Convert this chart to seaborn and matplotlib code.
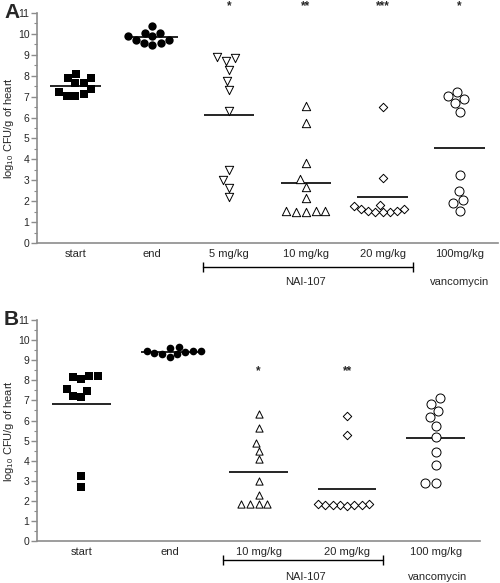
import numpy as np
import pandas as pd
import matplotlib
matplotlib.use("Agg")
import matplotlib.pyplot as plt
from matplotlib.ticker import MultipleLocator
import seaborn as sns

# ---------------- data ----------------
groups_A = ["start", "end", "5 mg/kg", "10 mg/kg", "20 mg/kg", "100mg/kg"]
A_start = [7.91, 7.64, 7.64, 7.88, 8.09, 7.35, 7.11, 7.03, 7.05, 7.21]
A_end = [10.35, 10.06, 9.90, 9.71, 9.55, 9.47, 9.55, 9.71, 9.87, 10.06]
A_5 = [8.85, 8.87, 8.70, 8.28, 7.72, 7.29, 6.32, 3.49, 3.01, 2.65, 2.19]
A_10 = [6.56, 5.76, 3.84, 3.05, 2.69, 2.14, 1.53, 1.50, 1.50, 1.53, 1.53]
A_20 = [6.52, 3.09, 1.80, 1.65, 1.55, 1.50, 1.50, 1.50, 1.55, 1.65, 1.75]
A_van = [7.24, 7.03, 6.89, 6.67, 6.25, 3.25, 2.50, 2.06, 1.93, 1.55]
A_stars = ["", "", "*", "**", "***", "*"]

groups_B = ["start", "end", "10 mg/kg", "20 mg/kg", "100 mg/kg"]
B_start = [8.23, 8.06, 8.18, 8.23, 7.55, 7.23, 7.18, 7.48, 2.70, 3.24]
B_end = [9.45, 9.30, 9.59, 9.17, 9.34, 9.67, 9.30, 9.47, 9.47, 9.40]
B_10 = [6.32, 5.61, 4.89, 4.50, 4.07, 3.00, 2.29, 1.83, 1.83, 1.83, 1.83]
B_20 = [6.22, 5.28, 1.80, 1.78, 1.82, 1.76, 1.86, 1.80, 1.78, 1.80]
B_van = [7.10, 6.84, 6.47, 6.16, 5.74, 5.16, 4.45, 3.78, 2.90, 2.90]
B_stars = ["", "", "*", "**", ""]

# marker styles: (marker, face, size)
styles_A = [("s", "black", 6.0), ("o", "black", 6.0), ("v", "white", 6.0),
            ("^", "white", 6.0), ("D", "white", 4.3), ("o", "white", 6.5)]
styles_B = [("s", "black", 6.0), ("o", "black", 5.5), ("^", "white", 5.2),
            ("D", "white", 4.3), ("o", "white", 6.5)]

sns.set_style("ticks")
plt.rcParams["font.family"] = ["Liberation Sans", "DejaVu Sans"]
plt.rcParams["mathtext.fontset"] = "custom"
plt.rcParams["mathtext.rm"] = "Liberation Sans"

fig = plt.figure(figsize=(5.0, 5.83), dpi=100)
axA = fig.add_axes([0.074, 0.583, 0.922, 0.395])
axB = fig.add_axes([0.074, 0.072, 0.886, 0.379])

GRAY = "#8c8c8c"


def panel(ax, groups, values, styles, stars, star_y):
    df = pd.concat([pd.DataFrame({"group": g, "val": v}) for g, v in zip(groups, values)])
    for g, (m, face, sz) in zip(groups, styles):
        sub = df[df["group"] == g]
        sns.swarmplot(data=sub, x="group", y="val", order=groups, ax=ax,
                      marker=m, color=face, edgecolor="black",
                      linewidth=0 if face == "black" else 0.7, size=sz, zorder=3)
    means = [np.mean(v) for v in values]
    ax.hlines(means, np.arange(len(groups)) - 0.33, np.arange(len(groups)) + 0.33,
              colors="black", lw=1.2, zorder=2)
    for i, s in enumerate(stars):
        if s:
            ax.text(i, star_y, s, ha="center", va="center", fontsize=8.5,
                    fontweight="bold", clip_on=False)
    ax.set_xlim(-0.5, len(groups) - 0.5)
    ax.set_ylim(0, 11)
    ax.yaxis.set_major_locator(MultipleLocator(1))
    ax.yaxis.set_minor_locator(MultipleLocator(0.5))
    ax.set_xlabel("")
    ax.set_ylabel(r"log$_{10}$ CFU/g of heart", fontsize=8, labelpad=1)
    for sp in ["top", "right"]:
        ax.spines[sp].set_visible(False)
    for sp in ["left", "bottom"]:
        ax.spines[sp].set_color(GRAY)
        ax.spines[sp].set_linewidth(1.2)
    ax.tick_params(axis="y", which="major", direction="out", length=4, width=1,
                   color=GRAY, labelsize=7.5, pad=1.5)
    ax.tick_params(axis="y", which="minor", direction="out", length=2, width=0.8,
                   color=GRAY)
    ax.tick_params(axis="x", length=0, labelsize=8, pad=4)
    ax.set_xticks(range(len(groups)))
    ax.set_xticklabels(groups)


panel(axA, groups_A, [A_start, A_end, A_5, A_10, A_20, A_van], styles_A, A_stars, 11.3)
panel(axB, groups_B, [B_start, B_end, B_10, B_20, B_van], styles_B, B_stars, 8.45)

# brackets and group labels
trA = axA.get_xaxis_transform()
axA.plot([1.66, 4.39], [-0.104, -0.104], color="black", lw=1, transform=trA, clip_on=False)
axA.plot([1.66, 4.39], [-0.104, -0.104], ls="none", marker="|", ms=7, mew=1,
         color="black", transform=trA, clip_on=False)
axA.text(3.0, -0.17, "NAI-107", transform=trA, ha="center", va="center", fontsize=8)
axA.text(5.0, -0.17, "vancomycin", transform=trA, ha="center", va="center", fontsize=8)

trB = axB.get_xaxis_transform()
axB.plot([1.60, 3.41], [-0.086, -0.086], color="black", lw=1, transform=trB, clip_on=False)
axB.plot([1.60, 3.41], [-0.086, -0.086], ls="none", marker="|", ms=7, mew=1,
         color="black", transform=trB, clip_on=False)
axB.text(2.53, -0.163, "NAI-107", transform=trB, ha="center", va="center", fontsize=8)
axB.text(4.02, -0.163, "vancomycin", transform=trB, ha="center", va="center", fontsize=8)

fig.text(0.008, 0.978, "A", fontsize=15, fontweight="bold", va="center", ha="left")
fig.text(0.008, 0.452, "B", fontsize=15, fontweight="bold", va="center", ha="left")

fig.savefig("out.png", dpi=100)
